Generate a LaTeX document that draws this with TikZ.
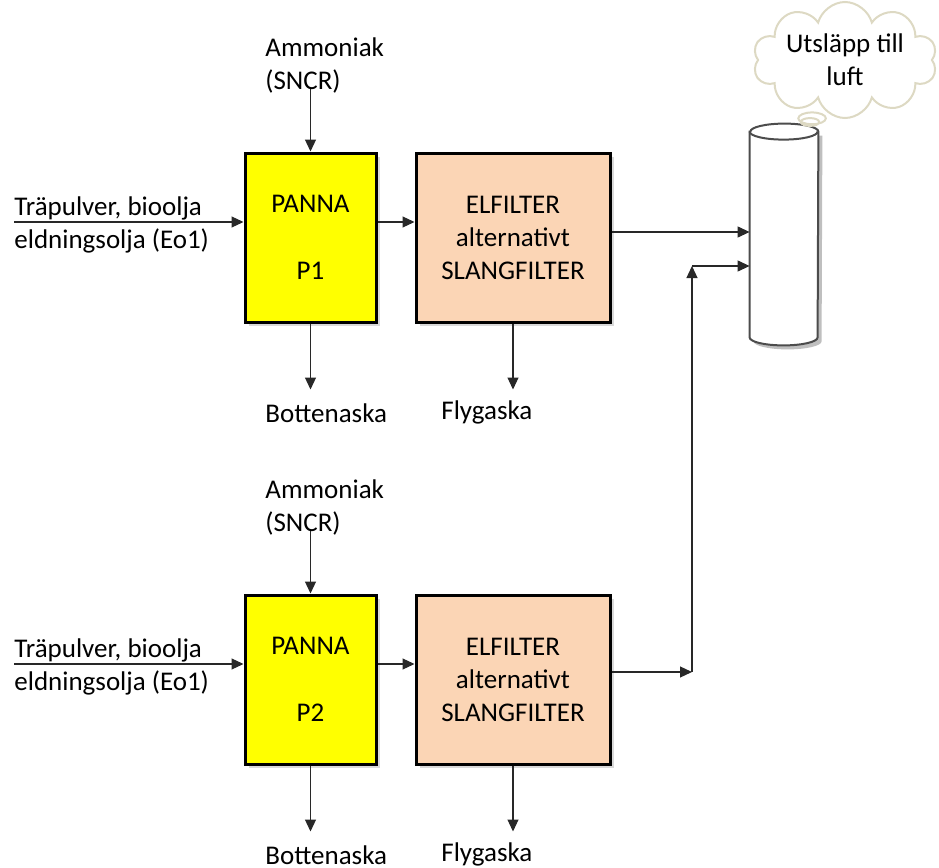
\documentclass[tikz,border=0pt]{standalone}
\usepackage{fontspec}
\setmainfont{Carlito}
\usepackage{tikz}
\usetikzlibrary{shapes.geometric, shapes.callouts, arrows.meta, shadows}
\definecolor{PannaYellow}{RGB}{255, 255, 0}
\definecolor{FilterPeach}{RGB}{251, 213, 181}
\definecolor{CloudTan}{RGB}{221, 217, 195}
\definecolor{FlowGrey}{RGB}{40, 40, 40}

\begin{document}
\begin{tikzpicture}[x=0.5pt,y=-0.5pt,
  txt/.style={font=\fontsize{13.5}{16.5}\selectfont, inner sep=0pt},
  box/.style={draw=black, line width=1.5pt, minimum height=84.5pt, align=center, txt,
    drop shadow={shadow xshift=2pt, shadow yshift=-2pt, opacity=0.3}},
  flow/.style={draw=FlowGrey, line width=0.6pt, -{Triangle[length=6pt,width=5.5pt]}},
  rim/.style={x radius=17pt, y radius=4pt}]
  \path[use as bounding box] (0,0) rectangle (939,868);

  \foreach \i/\dy in {1/0,2/442}{
    \node[box, fill=PannaYellow, minimum width=65.5pt] (p\i) at (310.5,237.5+\dy) {PANNA\\[17pt]P\i};
    \node[box, fill=FilterPeach, minimum width=97pt] (f\i) at (513,237.5+\dy) {ELFILTER\\alternativt\\SLANGFILTER};

    \node[txt, anchor=base west] (fuela\i) at (14,215+\dy) {Träpulver, bioolja};
    \node[txt, anchor=base west] (fuelb\i) at (14,248+\dy) {eldningsolja (Eo1)};
    \coordinate (fuelin\i) at (14,222+\dy);
    \draw[flow] (fuelin\i) -- (p\i.west |- fuelin\i);
    \draw[flow] (p\i.east |- fuelin\i) -- (f\i.west |- fuelin\i);

    \node[txt, anchor=west, align=left] (amm\i) at (265,65+\dy) {Ammoniak\\(SNCR)};
    \draw[flow] ([yshift=2pt]p\i.north |- amm\i.south) -- (p\i.north);

    \node[txt, anchor=base west] (bott\i) at (265,422+\dy) {Bottenaska};
    \node[txt, anchor=base west] (fly\i) at (441,419+\dy) {Flygaska};
    \draw[flow] (p\i.south) -- ++(0,66);
    \draw[flow] (f\i.south) -- ++(0,66);
  }

  % skorsten
  \node[inner sep=0pt, minimum width=34pt, minimum height=102.5pt] (stack) at (784,234.5) {};
  \fill[black, opacity=0.25] ([shift={(2pt,-2pt)}]stack.north west) -- ([shift={(2pt,-2pt)}]stack.south west)
    arc[start angle=180, end angle=360, rim] -- ([shift={(2pt,-2pt)}]stack.north east) -- cycle;
  \draw[black!70, line width=1pt, fill=white] (stack.north west) -- (stack.south west)
    arc[start angle=180, end angle=360, rim] -- (stack.north east)
    arc[start angle=0, end angle=180, rim] -- cycle;
  \draw[black!70, line width=1pt] (stack.north west) arc[start angle=180, end angle=360, rim];

  \coordinate (in1) at (748,232);
  \coordinate (elbow) at (692,672);
  \coordinate (riser) at (692,266);
  \draw[flow] (f1.east |- in1) -- (stack.west |- in1);
  \draw[flow] (f2.east |- elbow) -- (elbow);
  \draw[flow] (elbow) -- (riser);
  \draw[flow] (riser) -- (stack.west |- riser);

  \coordinate (puff) at (810,122);
  \node[cloud callout, cloud puffs=10, cloud ignores aspect, draw=CloudTan, line width=1pt, fill=white,
    minimum width=92pt, minimum height=58pt, callout absolute pointer={(puff)},
    callout pointer segments=2, txt, align=center] (cloud) at (845,60) {Utsläpp till\\luft};
\end{tikzpicture}
\end{document}
